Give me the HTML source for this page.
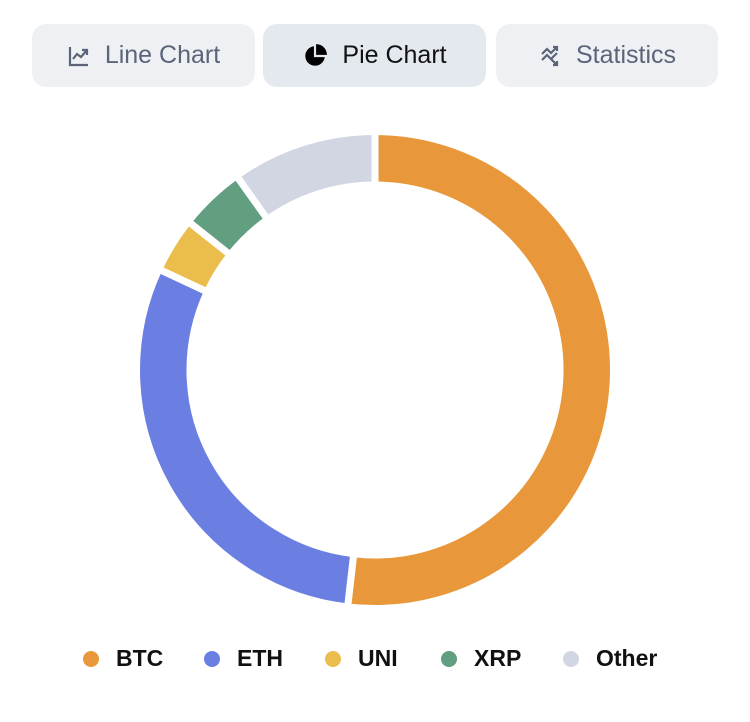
<!DOCTYPE html><html><head><style>
body{margin:0;width:750px;height:722px;background:#fff;font-family:"Liberation Sans",sans-serif;position:relative;overflow:hidden}
.b{position:absolute;top:24px;height:63px;border-radius:14px;background:#eef0f4;display:flex;align-items:center;justify-content:center;font-size:25px;color:#5b6479;gap:14px}
.b.a{background:#e4e8ef;color:#111}
.l{position:absolute;top:645px;font-size:23px;font-weight:bold;color:#111;display:flex;align-items:center}
.l i{display:inline-block;width:16px;height:16px;border-radius:50%;margin-right:17px}
</style></head><body>
<div class="b" style="left:32px;width:223px"><svg width="24" height="24" viewBox="0 0 24 24" fill="none" stroke="#5b6479" stroke-width="2.2"><path d="M3 3v18h18M6 15l4-5 4 3 6-7M15 6h5v5"/></svg>Line Chart</div>
<div class="b a" style="left:263px;width:223px"><svg width="26" height="26" viewBox="0 0 24 24"><path d="M11 3a9 9 0 1 0 10 10H11z" fill="#000"/><path d="M13 1a10 10 0 0 1 10 10H13z" fill="#000"/></svg>Pie Chart</div>
<div class="b" style="left:496px;width:222px"><svg width="24" height="24" viewBox="0 0 24 24" fill="none" stroke="#5b6479" stroke-width="2.2"><path d="M4 10l5-5 4 4 6-6M15 3h4v4M4 16l5-5 4 4 6-6M15 21h4v-4M19 21l-6-6"/></svg>Statistics</div>
<svg width="750" height="722" style="position:absolute;left:0;top:0" id="s"></svg>
<div class="l" style="left:83px"><i style="background:#e8983b"></i>BTC</div>
<div class="l" style="left:204px"><i style="background:#6b7fe3"></i>ETH</div>
<div class="l" style="left:325px"><i style="background:#eabd4d"></i>UNI</div>
<div class="l" style="left:441px"><i style="background:#629e80"></i>XRP</div>
<div class="l" style="left:563px"><i style="background:#d1d6e2"></i>Other</div>
<script>
var cx=375,cy=370,R=238.5,r=185,segs=[[0,186.6,"#e8983b"],[186.6,295,"#6b7fe3"],[295,308.5,"#eabd4d"],[308.5,324.5,"#629e80"],[324.5,360,"#d1d6e2"]],h="";
function p(a,rr){a=a*Math.PI/180;return (cx+rr*Math.sin(a)).toFixed(2)+" "+(cy-rr*Math.cos(a)).toFixed(2)}
segs.forEach(function(s){var lg=(s[1]-s[0])>180?1:0;h+='<path d="M'+p(s[0],R)+' A'+R+' '+R+' 0 '+lg+' 1 '+p(s[1],R)+' L'+p(s[1],r)+' A'+r+' '+r+' 0 '+lg+' 0 '+p(s[0],r)+'Z" fill="'+s[2]+'" stroke="#fff" stroke-width="7" stroke-linejoin="miter"/>'});
document.getElementById("s").innerHTML=h;
</script>
</body></html>
